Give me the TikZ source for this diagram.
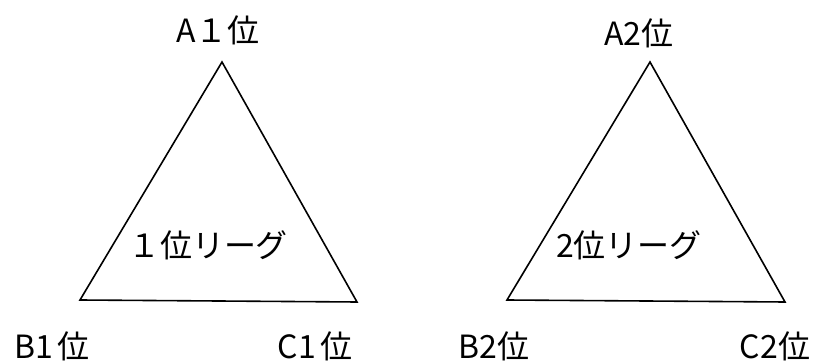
\documentclass[tikz,border=0pt]{standalone}
\usepackage{fontspec}
\setmainfont{Noto Sans CJK JP}
\begin{document}
\begin{tikzpicture}[x=1pt,y=-1pt,line width=1.6pt,line join=miter,
  lbl/.style={font=\fontsize{32}{34}\selectfont,inner sep=0pt}]
\useasboundingbox (0,0) rectangle (820,363);
% first league
\coordinate (a1) at (222,62);
\coordinate (b1) at (80,300);
\coordinate (c1) at (357,302);
\draw (a1)--(b1)--(c1)--cycle;
\draw (218,30) node[lbl] (ta1) {A１位};
\draw (52,346) node[lbl] (tb1) {B1\kern4pt位};
\draw (315,346) node[lbl] (tc1) {C1\kern4pt位};
\draw (208,245) node[lbl] (t1) {１位リーグ};
% second league
\coordinate (a2) at (650,62);
\coordinate (b2) at (507,300);
\coordinate (c2) at (785,302);
\draw (a2)--(b2)--(c2)--cycle;
\draw (639,33) node[lbl] (ta2) {A2位};
\draw (494,346) node[lbl] (tb2) {B2位};
\draw (775,346) node[lbl] (tc2) {C2位};
\draw (629,245) node[lbl] (t2) {2位リーグ};
\end{tikzpicture}
\end{document}
